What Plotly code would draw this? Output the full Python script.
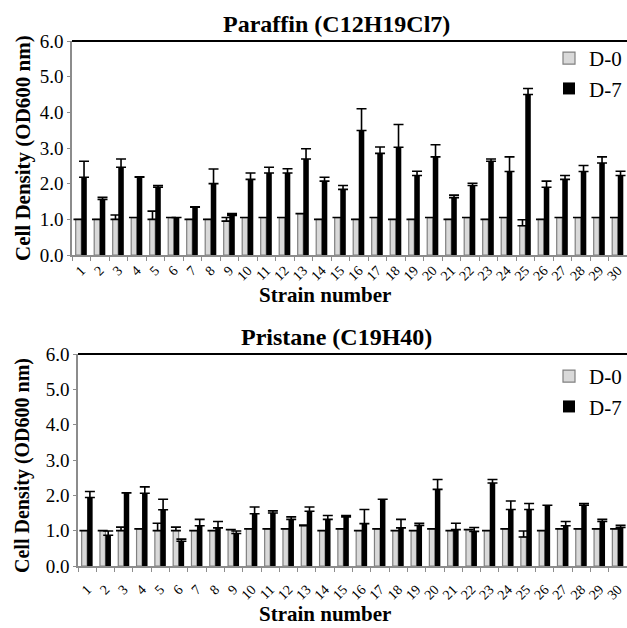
import plotly.graph_objects as go

strains = [str(i) for i in range(1, 31)]

# Paraffin (C12H19Cl7)
par_d0 = [1.00, 1.00, 1.00, 1.05, 1.00, 1.05, 1.00, 1.00, 0.95, 1.05,
          1.05, 1.05, 1.16, 1.00, 1.05, 1.00, 1.05, 1.00, 1.00, 1.05,
          1.00, 1.05, 1.00, 1.05, 0.82, 1.00, 1.05, 1.05, 1.05, 1.05]
par_d0_err = [0.00, 0.00, 0.12, 0.00, 0.23, 0.00, 0.00, 0.00, 0.10, 0.00,
              0.00, 0.00, 0.00, 0.00, 0.00, 0.00, 0.00, 0.00, 0.00, 0.00,
              0.00, 0.00, 0.00, 0.00, 0.17, 0.00, 0.00, 0.00, 0.00, 0.00]
par_d7 = [2.18, 1.56, 2.46, 2.18, 1.90, 1.05, 1.34, 2.00, 1.11, 2.12,
          2.30, 2.30, 2.69, 2.07, 1.84, 3.49, 2.85, 3.02, 2.23, 2.75,
          1.61, 1.95, 2.63, 2.34, 4.50, 1.90, 2.12, 2.34, 2.58, 2.23]
par_d7_err = [0.45, 0.06, 0.23, 0.01, 0.05, 0.00, 0.01, 0.41, 0.05, 0.18,
              0.16, 0.12, 0.29, 0.11, 0.11, 0.61, 0.18, 0.64, 0.12, 0.34,
              0.07, 0.06, 0.06, 0.41, 0.17, 0.17, 0.11, 0.17, 0.17, 0.12]

# Pristane (C19H40)
pri_d0 = [1.00, 1.00, 1.00, 1.05, 1.00, 1.00, 1.00, 1.00, 1.03, 1.05,
          1.05, 1.05, 1.14, 1.00, 1.05, 1.00, 1.05, 1.00, 1.00, 1.05,
          1.00, 1.03, 1.00, 1.05, 0.82, 1.00, 1.05, 1.05, 1.05, 1.05]
pri_d0_err = [0.00, 0.00, 0.10, 0.00, 0.21, 0.10, 0.00, 0.00, 0.00, 0.00,
              0.00, 0.00, 0.02, 0.00, 0.00, 0.00, 0.00, 0.00, 0.00, 0.00,
              0.00, 0.00, 0.00, 0.00, 0.17, 0.00, 0.00, 0.00, 0.00, 0.00]
pri_d7 = [1.94, 0.87, 2.07, 2.06, 1.59, 0.70, 1.14, 1.08, 0.92, 1.48,
          1.50, 1.32, 1.55, 1.32, 1.39, 1.20, 1.89, 1.08, 1.15, 2.17,
          1.03, 0.98, 2.35, 1.60, 1.60, 1.72, 1.14, 1.72, 1.26, 1.09]
pri_d7_err = [0.17, 0.12, 0.00, 0.18, 0.30, 0.06, 0.18, 0.18, 0.07, 0.19,
              0.06, 0.07, 0.12, 0.11, 0.04, 0.40, 0.00, 0.24, 0.06, 0.28,
              0.18, 0.11, 0.10, 0.24, 0.17, 0.00, 0.12, 0.05, 0.06, 0.06]

W, H = 627, 628
FONT = "Liberation Serif"
GRAY_FILL = "#d9d9d9"
GRAY_LINE = "#808080"
AXIS_GRAY = "#8c8c8c"


def px(x):
    return x / W


def py(y):
    return 1 - y / H


zeros = [0] * 30


def err(arr):
    return dict(type="data", symmetric=False, array=arr, arrayminus=zeros,
                color="black", thickness=1.6, width=5)


fig = go.Figure()

panels = [
    (par_d0, par_d0_err, par_d7, par_d7_err, "x", "y", "legend"),
    (pri_d0, pri_d0_err, pri_d7, pri_d7_err, "x2", "y2", "legend2"),
]
for d0, d0e, d7, d7e, xa, ya, lg in panels:
    fig.add_trace(go.Bar(x=strains, y=d0, name="D-0", xaxis=xa, yaxis=ya,
                         legend=lg,
                         marker=dict(color=GRAY_FILL,
                                     line=dict(color=GRAY_LINE, width=1.2)),
                         error_y=err(d0e)))
    fig.add_trace(go.Bar(x=strains, y=d7, name="D-7", xaxis=xa, yaxis=ya,
                         legend=lg,
                         marker=dict(color="black",
                                     line=dict(color="black", width=0)),
                         error_y=err(d7e)))

xcommon = dict(type="category", range=[-0.5, 29.5], showline=True,
               linecolor=AXIS_GRAY, linewidth=1.5, ticks="outside",
               tickmode="array", tickvals=strains, ticktext=strains,
               tickson="boundaries", ticklen=4, tickcolor=AXIS_GRAY,
               tickangle=-45, tickfont=dict(family=FONT, size=14, color="black"),
               showgrid=False, zeroline=False, automargin=False, fixedrange=True)
ycommon = dict(range=[0, 6], dtick=1, tickformat=".1f", showline=True,
               linecolor=AXIS_GRAY, linewidth=1.5, ticks="outside", ticklen=3,
               tickcolor=AXIS_GRAY, tickfont=dict(family=FONT, size=19, color="black"),
               showgrid=False, zeroline=False, automargin=False, fixedrange=True)


def ann(text, x, y, size, angle=0):
    return dict(text=text, x=px(x), y=py(y), xref="paper", yref="paper",
                xanchor="center", yanchor="middle", showarrow=False,
                textangle=angle, font=dict(family=FONT, size=size, color="black"))


fig.update_layout(
    width=W, height=H,
    margin=dict(l=0, r=0, t=0, b=0),
    paper_bgcolor="white", plot_bgcolor="white",
    barmode="group", bargap=0.4, bargroupgap=0,
    font=dict(family=FONT, color="black"),
    xaxis=dict(domain=[px(72), 1], anchor="y", **xcommon),
    yaxis=dict(domain=[py(255), py(41)], anchor="x", **ycommon),
    xaxis2=dict(domain=[px(78), 1], anchor="y2", ticklabelstandoff=8, **xcommon),
    yaxis2=dict(domain=[py(566), py(354)], anchor="x2", **ycommon),
    legend=dict(x=px(549), y=py(38), xanchor="left", yanchor="top",
                font=dict(family=FONT, size=21), bgcolor="rgba(0,0,0,0)",
                itemclick=False, itemdoubleclick=False),
    legend2=dict(x=px(549), y=py(356), xanchor="left", yanchor="top",
                 font=dict(family=FONT, size=21), bgcolor="rgba(0,0,0,0)",
                 itemclick=False, itemdoubleclick=False),
    shapes=[
        dict(type="line", xref="x domain", yref="y domain", x0=0, x1=1, y0=1, y1=1,
             line=dict(color="black", width=2)),
        dict(type="line", xref="x2 domain", yref="y2 domain", x0=0, x1=1, y0=1, y1=1,
             line=dict(color="black", width=2)),
    ],
    annotations=[
        ann("<b>Paraffin (C12H19Cl7)</b>", 336, 24, 24),
        ann("<b>Pristane (C19H40)</b>", 336, 337, 24),
        ann("<b>Strain number</b>", 325, 295, 21),
        ann("<b>Strain number</b>", 325, 614, 21),
        ann("<b>Cell Density (OD600 nm)</b>", 23, 148, 21, -90),
        ann("<b>Cell Density (OD600 nm)</b>", 23, 466, 20, -90),
    ],
)

fig.write_html("out.html", config={"displayModeBar": False},
               post_script="document.body.style.margin='0';document.body.style.overflow='hidden';")
